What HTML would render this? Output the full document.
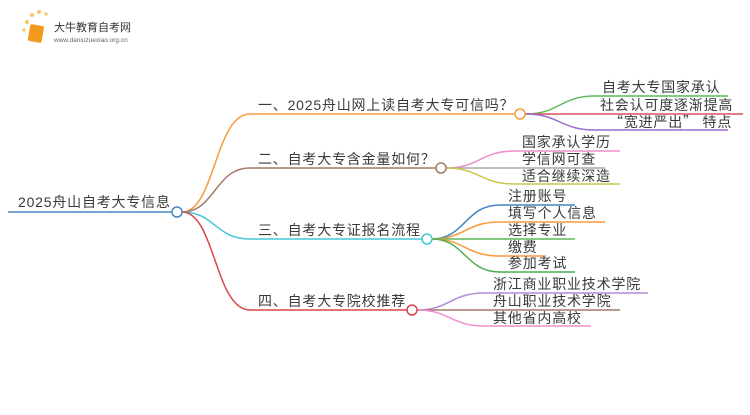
<!DOCTYPE html>
<html><head><meta charset="utf-8"><style>
body{margin:0;background:#fff;width:750px;height:410px;overflow:hidden}
svg text{font-family:"Liberation Sans","Noto Sans CJK SC",sans-serif;font-size:14px;letter-spacing:0.8px;fill:#3a3a3a}
.fw{font-family:"Noto Sans CJK SC",sans-serif}
</style></head><body>
<svg width="750" height="410" viewBox="0 0 750 410" fill="none" stroke-width="1.5">
<!-- logo -->
<circle cx="27" cy="22" r="2" fill="#f7c65a" stroke="none"/><circle cx="32" cy="15" r="2" fill="#f7c65a" stroke="none"/><circle cx="39" cy="12" r="2" fill="#f7c65a" stroke="none"/><circle cx="24" cy="30" r="1.6" fill="#f7c65a" stroke="none"/><circle cx="46" cy="14" r="1.6" fill="#f7c65a" stroke="none"/>
<rect x="29" y="25" width="14" height="17" rx="2" fill="#f39a1d" stroke="none" transform="rotate(10 36 33)"/>
<text x="54" y="31" style="font-size:11px;letter-spacing:0;fill:#333">大牛教育自考网</text>
<text x="54" y="42" style="font-size:6.5px;letter-spacing:0;fill:#666">www.daniuzuexiao.org.cn</text>
<!-- root -->
<path d="M8 212H172" stroke="#4a86c0"/>
<text x="18" y="207">2025舟山自考大专信息</text>
<!-- branches -->
<path d="M182 212C215 212 215 114 250 114H515" stroke="#f89a3c"/>
<path d="M182 212C215 212 215 168 250 168H436" stroke="#a57a6a"/>
<path d="M182 212C215 212 215 239 250 239H422" stroke="#42c8d8"/>
<path d="M182 212C215 212 215 310 250 310H407" stroke="#d9474a"/>
<text x="258" y="110">一、2025舟山网上读自考大专可信吗<tspan class="fw">？</tspan></text>
<text x="258" y="164">二、自考大专含金量如何<tspan class="fw">？</tspan></text>
<text x="258" y="235">三、自考大专证报名流程</text>
<text x="258" y="306">四、自考大专院校推荐</text>
<!-- branch1 children -->
<path d="M525 114C560 114 560 96 595 96H728" stroke="#5db85a"/>
<path d="M525 114H743" stroke="#d9535a"/>
<path d="M525 114C560 114 560 130 595 130H728" stroke="#9b6ad0"/>
<text x="602" y="92">自考大专国家承认</text>
<text x="600" y="110">社会认可度逐渐提高</text>
<text x="609" y="127"><tspan class="fw">“</tspan>宽进严出<tspan class="fw">”</tspan> 特点</text>
<!-- branch2 -->
<path d="M446 168C480 168 480 151 515 151H620" stroke="#ee8ecc"/>
<path d="M446 168H605" stroke="#aaa"/>
<path d="M446 168C480 168 480 184 515 184H620" stroke="#c9c94a"/>
<text x="522" y="147">国家承认学历</text>
<text x="522" y="164">学信网可查</text>
<text x="522" y="181">适合继续深造</text>
<!-- branch3 -->
<path d="M432 239C465 239 465 205 500 205H575" stroke="#3f86c4"/>
<path d="M432 239C465 239 465 222 500 222H605" stroke="#f89a3c"/>
<path d="M432 239H575" stroke="#5db85a"/>
<path d="M432 239C465 239 465 256 500 256H546" stroke="#f89a3c"/>
<path d="M432 239C465 239 465 272 500 272H575" stroke="#4caf50"/>
<text x="508" y="201">注册账号</text>
<text x="508" y="218">填写个人信息</text>
<text x="508" y="235">选择专业</text>
<text x="508" y="252">缴费</text>
<text x="508" y="268">参加考试</text>
<!-- branch4 -->
<path d="M417 310C450 310 450 293 485 293H648" stroke="#b38ad8"/>
<path d="M417 310H620" stroke="#a57a6a"/>
<path d="M417 310C450 310 450 326 485 326H591" stroke="#ee8ecc"/>
<text x="493" y="289">浙江商业职业技术学院</text>
<text x="493" y="306">舟山职业技术学院</text>
<text x="493" y="323">其他省内高校</text>
<!-- circles -->
<circle cx="177" cy="212" r="5" fill="#fff" stroke="#4a86c0"/>
<circle cx="520" cy="114" r="5" fill="#fff" stroke="#f89a3c"/>
<circle cx="441" cy="168" r="5" fill="#fff" stroke="#a57a6a"/>
<circle cx="427" cy="239" r="5" fill="#fff" stroke="#42c8d8"/>
<circle cx="412" cy="310" r="5" fill="#fff" stroke="#d9474a"/>
</svg>
</body></html>
